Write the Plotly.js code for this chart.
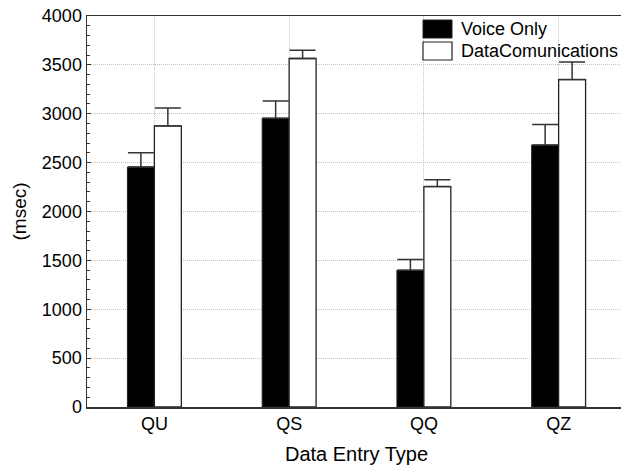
<!DOCTYPE html>
<html>
<head>
<meta charset="utf-8">
<script src="https://cdn.plot.ly/plotly-3.0.1.min.js"></script>
<style>
html, body { margin: 0; padding: 0; overflow: hidden; background: #fff; }
#chart { width: 640px; height: 469px; }
</style>
</head>
<body>
<div id="chart"></div>
<script>
const categories = ["QU", "QS", "QQ", "QZ"];
const voiceOnly = [2455, 2955, 1400, 2680];
const voiceOnlyErr = [145, 175, 110, 210];
const dataComm = [2875, 3565, 2255, 3350];
const dataCommErr = [185, 85, 70, 180];
const seriesNames = ["Voice Only", "DataComunications"];

const FONT = "Liberation Sans, Arial, Helvetica, sans-serif";

const traces = [
  {
    type: "bar", name: seriesNames[0], x: categories, y: voiceOnly,
    marker: { color: "#000000", line: { color: "#222", width: 1 } },
    error_y: { type: "data", symmetric: false, array: voiceOnlyErr, arrayminus: voiceOnly.map(() => 0),
               color: "#333", thickness: 1.5, width: 13 },
    showlegend: false, hoverinfo: "skip"
  },
  {
    type: "bar", name: seriesNames[1], x: categories, y: dataComm,
    marker: { color: "#ffffff", line: { color: "#222", width: 1.3 } },
    error_y: { type: "data", symmetric: false, array: dataCommErr, arrayminus: dataComm.map(() => 0),
               color: "#333", thickness: 1.5, width: 13 },
    showlegend: false, hoverinfo: "skip"
  }
];

// custom legend (paper coordinates: plot area x 87..626, y 16..407)
const px = v => (v - 87) / 539;
const py = v => (407 - v) / 391;
const shapes = [
  { type: "rect", xref: "paper", yref: "paper", x0: px(423), x1: px(452), y0: py(38), y1: py(20),
    fillcolor: "#000", line: { color: "#222", width: 1 } },
  { type: "rect", xref: "paper", yref: "paper", x0: px(423), x1: px(452), y0: py(60), y1: py(42),
    fillcolor: "#fff", line: { color: "#222", width: 1.2 } }
];
const annotations = [
  { xref: "paper", yref: "paper", x: px(459), y: py(29), text: seriesNames[0], showarrow: false,
    xanchor: "left", yanchor: "middle", font: { family: FONT, size: 18, color: "#000" } },
  { xref: "paper", yref: "paper", x: px(459), y: py(51), text: seriesNames[1], showarrow: false,
    xanchor: "left", yanchor: "middle", font: { family: FONT, size: 18, color: "#000" } }
];

const layout = {
  width: 640, height: 469,
  margin: { l: 87, r: 14, t: 16, b: 62 },
  paper_bgcolor: "#fff", plot_bgcolor: "#fff",
  barmode: "group", bargap: 0.6, bargroupgap: 0,
  font: { family: FONT, color: "#000" },
  showlegend: false,
  xaxis: {
    type: "category", range: [-0.5, 3.5],
    showline: true, linecolor: "#333", linewidth: 1.5, mirror: true,
    ticks: "", tickfont: { size: 18, family: FONT },
    showgrid: true, gridcolor: "#c4c4c4", griddash: "1px,1px", gridwidth: 1,
    title: { text: "Data Entry Type", font: { size: 20, family: FONT }, standoff: 14 },
    zeroline: false
  },
  xaxis2: {
    overlaying: "x", side: "top", range: [-0.5, 3.5], showline: false,
    tickmode: "array", tickvals: [0.17, 1.5, 2.83], ticks: "inside", ticklen: 3,
    tickcolor: "#333", tickwidth: 1.5, showticklabels: false, showgrid: false, zeroline: false
  },
  yaxis: {
    range: [0, 4000], dtick: 500, tick0: 0,
    showline: true, linecolor: "#333", linewidth: 1.5, mirror: false,
    ticks: "inside", ticklen: 4, tickcolor: "#333", tickwidth: 1,
    minor: { dtick: 100, ticks: "inside", ticklen: 3, tickcolor: "#333", showgrid: false },
    tickfont: { size: 18, family: FONT },
    showgrid: true, gridcolor: "#c4c4c4", griddash: "1px,1px", gridwidth: 1,
    title: { text: "(msec)", font: { size: 19, family: FONT }, standoff: 10 },
    zeroline: false
  },
  shapes: shapes,
  annotations: annotations
};

Plotly.newPlot("chart", traces, layout, { displayModeBar: false, staticPlot: true });
</script>
</body>
</html>
